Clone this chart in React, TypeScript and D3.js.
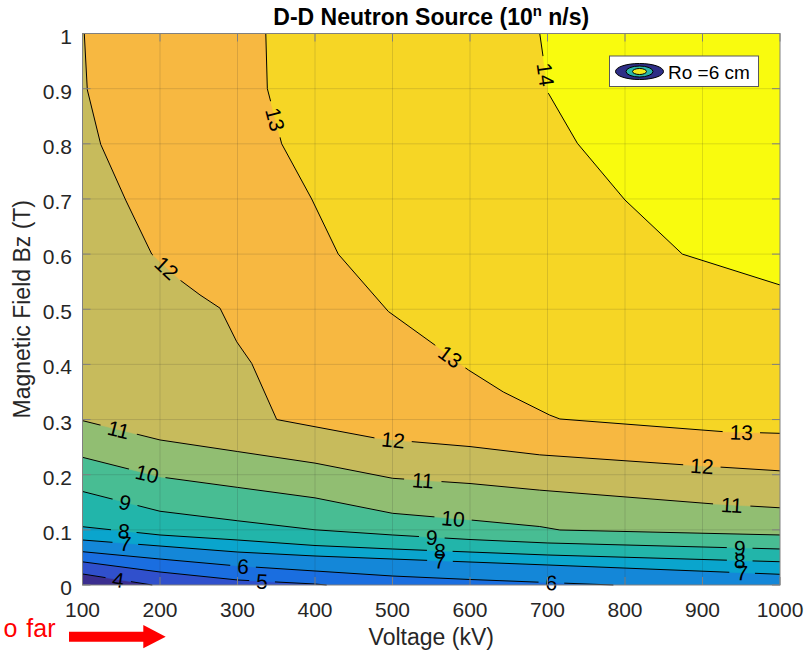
import * as d3 from "d3"

const W = 804
const H = 654
const MARGIN = { left: 82.5, top: 33.5, right: 24, bottom: 69 }

// axes
const xDomain: [number, number] = [100, 1000]
const yDomain: [number, number] = [0, 1]
const xTicks = [100, 200, 300, 400, 500, 600, 700, 800, 900, 1000]
const yTicks = [0, 0.1, 0.2, 0.3, 0.4, 0.5, 0.6, 0.7, 0.8, 0.9, 1]
const yTickLabels = ["0", "0.1", "0.2", "0.3", "0.4", "0.5", "0.6", "0.7", "0.8", "0.9", "1"]

// contour levels (log10 of n/s) and the lines: [Voltage kV, Bz T]
const levels = [4, 5, 6, 7, 8, 9, 10, 11, 12, 13, 14]
const line4: [number, number][] = [[100, 0.02], [190, 0]]
const line5: [number, number][] = [[100, 0.042], [200, 0.0236], [300, 0.0091], [400, 0.0018], [415, 0]]
const line6: [number, number][] = [[100, 0.0604], [200, 0.0471], [300, 0.0345], [400, 0.0254], [500, 0.0163], [600, 0.01], [700, 0.0045], [785, 0]]
const line7: [number, number][] = [[100, 0.0816], [200, 0.0707], [300, 0.0598], [400, 0.0526], [500, 0.0471], [600, 0.0417], [700, 0.0363], [1000, 0.0194]]
const line8: [number, number][] = [[100, 0.1057], [200, 0.0907], [300, 0.0816], [400, 0.0716], [500, 0.0653], [600, 0.0598], [700, 0.0544], [1000, 0.0422]]
const line9: [number, number][] = [[100, 0.1696], [200, 0.1337], [300, 0.1165], [400, 0.1001], [500, 0.0907], [600, 0.0825], [700, 0.0762], [1000, 0.0653]]
const line10: [number, number][] = [[100, 0.2315], [200, 0.196], [300, 0.177], [400, 0.158], [500, 0.13], [600, 0.118], [690, 0.106], [716, 0.0997], [1000, 0.0907]]
const line11: [number, number][] = [[100, 0.298], [200, 0.263], [300, 0.242], [400, 0.221], [500, 0.1935], [600, 0.184], [690, 0.172], [914, 0.147], [1000, 0.14]]
const line12: [number, number][] = [[102.3, 1], [106.2, 0.898], [123.5, 0.799], [155.7, 0.698], [189.3, 0.6], [225.8, 0.553], [251.6, 0.526], [277.4, 0.502], [299, 0.441], [318.3, 0.402], [350.6, 0.3], [479.6, 0.266], [524.8, 0.26], [600, 0.251], [690, 0.236], [875, 0.218], [1000, 0.207]]
const line13: [number, number][] = [[336.5, 1], [338.5, 0.9], [357, 0.8], [395.7, 0.7], [430, 0.6], [494.6, 0.496], [554.8, 0.435], [597.8, 0.39], [643, 0.35], [703, 0.308], [716, 0.301], [927, 0.278], [1000, 0.275]]
const line14: [number, number][] = [[690, 1], [701, 0.892], [738.5, 0.801], [800, 0.698], [874, 0.6], [1000, 0.544]]
const contourLines = [line4, line5, line6, line7, line8, line9, line10, line11, line12, line13, line14]

// where clabel put its numbers
const labels4: [number, number][] = [[146, 0.009]]
const labels5: [number, number][] = [[331.6, 0.0036]]
const labels6: [number, number][] = [[307, 0.031], [705, 0.003]]
const labels7: [number, number][] = [[155, 0.071], [561, 0.0335], [951, 0.018]]
const labels8: [number, number][] = [[153, 0.094], [561, 0.061], [948, 0.043]]
const labels9: [number, number][] = [[154, 0.145], [550.6, 0.0847], [948, 0.069]]
const labels10: [number, number][] = [[183, 0.1995], [578, 0.118]]
const labels11: [number, number][] = [[146, 0.278], [539, 0.188], [937.6, 0.142]]
const labels12: [number, number][] = [[206, 0.571], [500.6, 0.261], [899, 0.2116]]
const labels13: [number, number][] = [[342, 0.842], [574, 0.413], [950, 0.272]]
const labels14: [number, number][] = [[694.8, 0.925]]
const labelSpots = [labels4, labels5, labels6, labels7, labels8, labels9, labels10, labels11, labels12, labels13, labels14]

// band fills, lowest band first (parula-ish)
const bandColors = ["#3b2e8f", "#3050cc", "#1a6ee0", "#1487d8", "#0aa5cd", "#22b5aa", "#48bd93", "#91be72", "#c7bb5c", "#f7b841", "#f6d625", "#f9fb0e"]

const FONT = "'Liberation Sans', Arial, Helvetica, sans-serif"

function nearestOnLine(pts: [number, number][], p: [number, number]) {
  let best = { d: Infinity, x: 0, y: 0, ang: 0 }
  for (let i = 0; i < pts.length - 1; i++) {
    const [x1, y1] = pts[i]
    const [x2, y2] = pts[i + 1]
    const dx = x2 - x1
    const dy = y2 - y1
    const L2 = dx * dx + dy * dy
    let t = L2 ? ((p[0] - x1) * dx + (p[1] - y1) * dy) / L2 : 0
    t = Math.max(0, Math.min(1, t))
    const qx = x1 + t * dx
    const qy = y1 + t * dy
    const d = (qx - p[0]) ** 2 + (qy - p[1]) ** 2
    if (d < best.d) {
      let ang = (Math.atan2(dy, dx) * 180) / Math.PI
      if (ang > 90) ang -= 180
      if (ang < -90) ang += 180
      best = { d, x: qx, y: qy, ang }
    }
  }
  return best
}

export default function App() {
  const width = W - MARGIN.left - MARGIN.right
  const height = H - MARGIN.top - MARGIN.bottom
  const x = d3.scaleLinear().domain(xDomain).range([MARGIN.left, MARGIN.left + width])
  const y = d3.scaleLinear().domain(yDomain).range([MARGIN.top + height, MARGIN.top])
  const toPx = (p: [number, number]): [number, number] => [x(p[0]), y(p[1])]
  const line = d3.line()

  // walk the frame counter-clockwise from the end of a line back to its start,
  // so the polygon covers the side with higher values
  const corners: [number, number][] = [
    [xDomain[0], yDomain[0]], [xDomain[1], yDomain[0]], [xDomain[1], yDomain[1]], [xDomain[0], yDomain[1]],
  ]
  const edgePos = ([v, b]: [number, number]) => {
    const eps = 1e-6
    const fx = (v - xDomain[0]) / (xDomain[1] - xDomain[0])
    const fy = (b - yDomain[0]) / (yDomain[1] - yDomain[0])
    if (fy <= eps) return fx
    if (fx >= 1 - eps) return 1 + fy
    if (fy >= 1 - eps) return 2 + (1 - fx)
    return 3 + (1 - fy)
  }
  const regionAbove = (pts: [number, number][]) => {
    const s0 = edgePos(pts[0])
    const s1 = edgePos(pts[pts.length - 1])
    let target = s0
    if (target <= s1) target += 4
    const out = pts.slice()
    for (let c = Math.floor(s1) + 1; c < target; c++) out.push(corners[c % 4])
    return out
  }

  const labels = contourLines.flatMap((pts, i) => {
    const px = pts.map(toPx)
    return labelSpots[i].map((s) => {
      const n = nearestOnLine(px, toPx(s))
      const text = String(levels[i])
      return { ...n, text, w: text.length * 11.7 + 14 }
    })
  })

  const axisColor = "#808080"
  const tickLen = 8

  return (
    <svg width={W} height={H} style={{ position: "absolute", left: 0, top: 0, background: "#fff" }} fontFamily={FONT}>
      <defs>
        <clipPath id="plotClip">
          <rect x={MARGIN.left} y={MARGIN.top} width={width} height={height} />
        </clipPath>
        <mask id="labelMask" maskUnits="userSpaceOnUse" x={0} y={0} width={W} height={H}>
          <rect x={0} y={0} width={W} height={H} fill="#fff" />
          {labels.map((l, i) => (
            <rect key={i} x={-l.w / 2} y={-8} width={l.w} height={16} fill="#000"
              transform={`translate(${l.x},${l.y}) rotate(${l.ang})`} />
          ))}
        </mask>
      </defs>

      {/* filled bands */}
      <g clipPath="url(#plotClip)">
        <rect x={MARGIN.left} y={MARGIN.top} width={width} height={height} fill={bandColors[0]} />
        {contourLines.map((pts, i) => (
          <path key={i} d={line(regionAbove(pts).map(toPx)) + "Z"} fill={bandColors[i + 1]} stroke={bandColors[i + 1]} strokeWidth={0.5} />
        ))}
      </g>

      {/* grid */}
      <g stroke="#262626" strokeOpacity={0.15} strokeWidth={1}>
        {xTicks.slice(1, -1).map((t) => (
          <line key={t} x1={x(t)} x2={x(t)} y1={MARGIN.top} y2={MARGIN.top + height} />
        ))}
        {yTicks.slice(1, -1).map((t) => (
          <line key={t} x1={MARGIN.left} x2={MARGIN.left + width} y1={y(t)} y2={y(t)} />
        ))}
      </g>

      {/* contour lines with gaps for their labels */}
      <g mask="url(#labelMask)" fill="none" stroke="#000" strokeWidth={1}>
        {contourLines.map((pts, i) => (
          <path key={i} d={line(pts.map(toPx)) ?? ""} />
        ))}
      </g>
      <g fontSize={21} fill="#000" textAnchor="middle">
        {labels.map((l, i) => (
          <text key={i} transform={`translate(${l.x},${l.y}) rotate(${l.ang})`} dy="0.36em">{l.text}</text>
        ))}
      </g>

      {/* axes box and ticks */}
      <rect x={MARGIN.left} y={MARGIN.top} width={width} height={height} fill="none" stroke={axisColor} strokeWidth={1} />
      <g stroke={axisColor} strokeWidth={1}>
        {xTicks.map((t) => (
          <g key={t}>
            <line x1={x(t)} x2={x(t)} y1={MARGIN.top + height} y2={MARGIN.top + height - tickLen} />
            <line x1={x(t)} x2={x(t)} y1={MARGIN.top} y2={MARGIN.top + tickLen} />
          </g>
        ))}
        {yTicks.map((t) => (
          <g key={t}>
            <line x1={MARGIN.left} x2={MARGIN.left + tickLen} y1={y(t)} y2={y(t)} />
            <line x1={MARGIN.left + width} x2={MARGIN.left + width - tickLen} y1={y(t)} y2={y(t)} />
          </g>
        ))}
      </g>
      <g fontSize={21} fill="#262626">
        {xTicks.map((t) => (
          <text key={t} x={x(t)} y={616.5} textAnchor="middle">{t}</text>
        ))}
        {yTicks.map((t, i) => (
          <text key={t} x={72} y={y(t) + 10} textAnchor="end">{yTickLabels[i]}</text>
        ))}
      </g>

      {/* titles */}
      <text x={MARGIN.left + width / 2} y={25} textAnchor="middle" fontSize={23} fontWeight={700} fill="#000">
        D-D Neutron Source (10<tspan dy={-9} fontSize={15}>n</tspan><tspan dy={9}> n/s)</tspan>
      </text>
      <text x={MARGIN.left + width / 2} y={645} textAnchor="middle" fontSize={23} fill="#262626">Voltage (kV)</text>
      <text transform={`translate(30,${MARGIN.top + height / 2}) rotate(-90)`} textAnchor="middle" fontSize={23} fill="#262626">
        Magnetic Field Bz (T)
      </text>

      {/* legend */}
      <g>
        <rect x={609.5} y={56} width={149} height={30.5} fill="#fff" stroke="#5a5a5a" strokeWidth={1} />
        <ellipse cx={639.5} cy={71.5} rx={24} ry={8} fill="#2e2e86" stroke="#000" strokeWidth={1} />
        <ellipse cx={639.5} cy={71.5} rx={13.5} ry={5.5} fill="#2bb5a8" stroke="#000" strokeWidth={1} />
        <ellipse cx={639.5} cy={71.5} rx={7} ry={3} fill="#f2ec1e" stroke="#000" strokeWidth={1} />
        <text x={668} y={78.5} fontSize={19} fill="#000">Ro =6 cm</text>
      </g>

      {/* red note under the axis */}
      <text x={55.5} y={637} textAnchor="end" fontSize={25} wordSpacing={2} fill="#ff0000">o far</text>
      <path d="M69,631.7 L143.3,631.7 L143.3,625 L165.7,636.7 L143.3,648.3 L143.3,641.7 L69,641.7 Z" fill="#ff0000" />
    </svg>
  )
}
